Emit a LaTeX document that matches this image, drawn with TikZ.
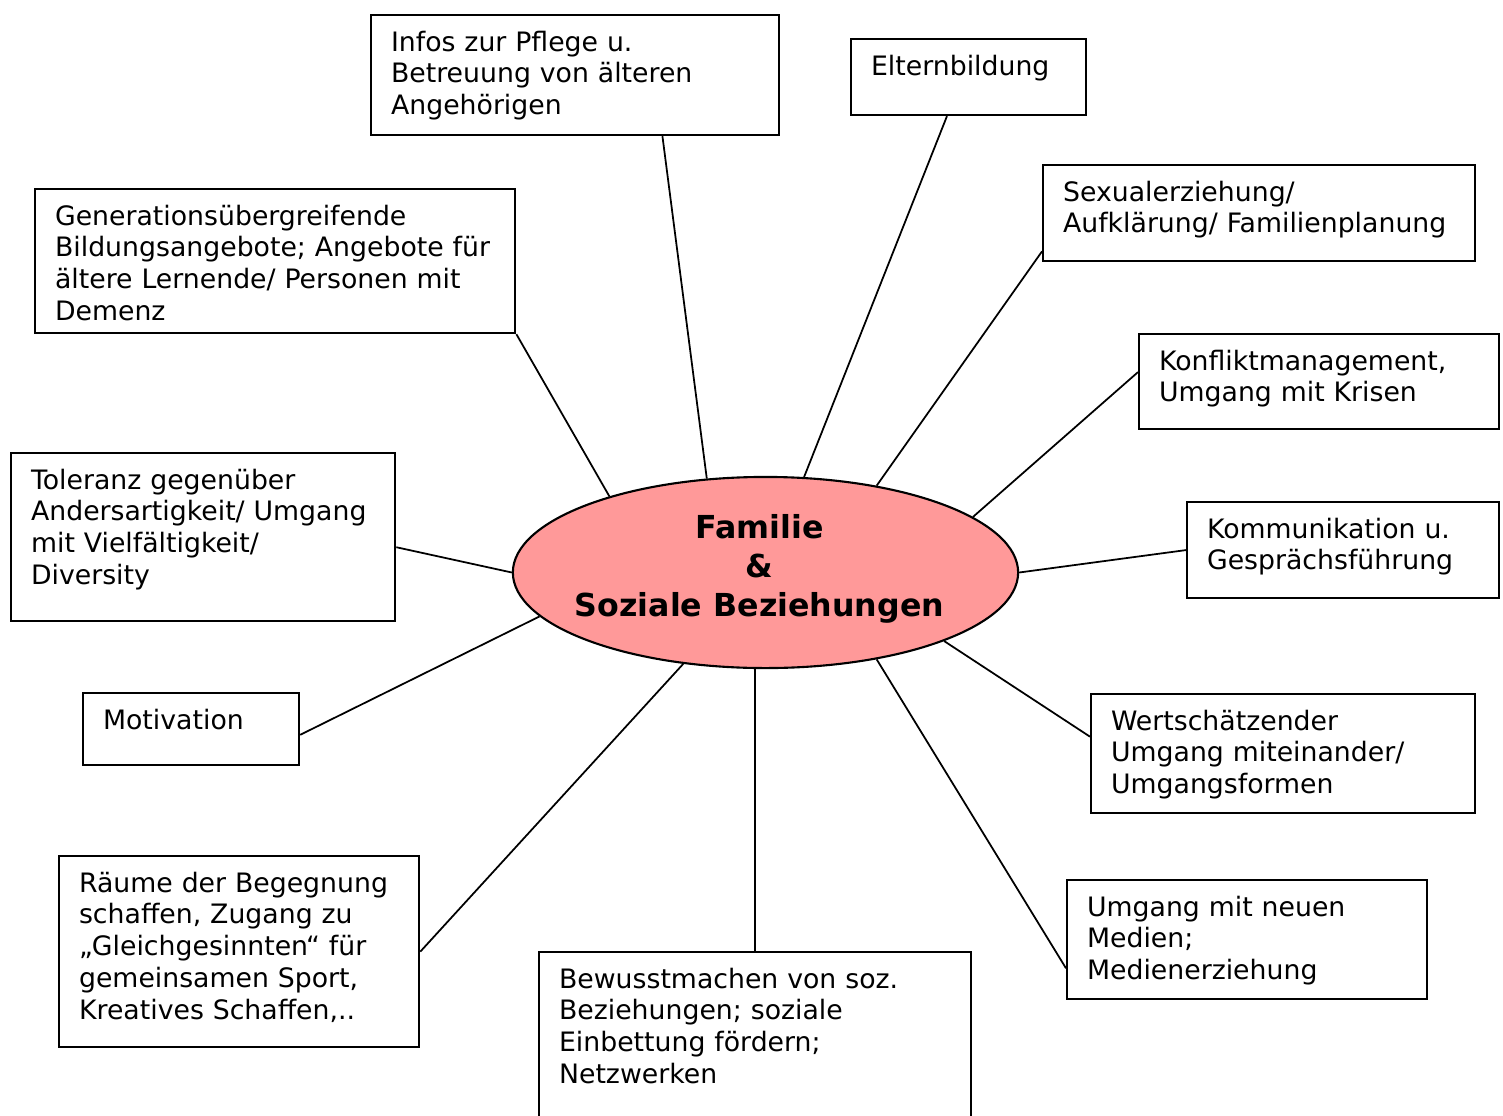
\documentclass[tikz,border=0pt]{standalone}
\usepackage{fontspec}
\setmainfont{DejaVu Sans}
\usetikzlibrary{shapes.geometric}
\begin{document}
\begin{tikzpicture}[x=0.01cm,y=-0.01cm,
		topic/.style={draw,line width=0.6pt,anchor=north west,align=left,
			inner xsep=0.2cm,inner ysep=0.12cm,text height=0.24cm,
			font=\fontsize{7.6}{9.07}\selectfont},
		core/.style={ellipse,draw,line width=0.6pt,fill=corefill,
			minimum width=5.05cm,minimum height=1.91cm,inner sep=0pt},
		link/.style={line width=0.5pt}]
	\definecolor{corefill}{HTML}{FF9999}
	\useasboundingbox (0,0) rectangle (1503,1115);
	% centre
	\node[core,label={[align=center,xshift=-0.06cm,yshift=0.04cm,font=\fontsize{9}{11.1}\bfseries]center:Familie\\\&\\Soziale Beziehungen}] (fam) at (765.5,572.5) {};
	% topics
	\node[topic,text width=3.68cm,text depth=0.72cm] (pflege) at (370,14) {Infos zur Pflege u.\\Betreuung von älteren\\Angehörigen};
	\node[topic,text width=1.95cm,text depth=0.28cm] (eltern) at (850,38) {Elternbildung};
	\node[topic,text width=3.92cm,text depth=0.48cm] (sexual) at (1042,164) {Sexualerziehung/\\Aufklärung/ Familienplanung};
	\node[topic,text width=3.20cm,text depth=0.47cm] (konflikt) at (1138,333) {Konfliktmanagement,\\Umgang mit Krisen};
	\node[topic,text width=2.72cm,text depth=0.48cm] (komm) at (1186,501) {Kommunikation u.\\Gesprächsführung};
	\node[topic,text width=3.44cm,text depth=0.71cm] (wert) at (1090,693) {Wertschätzender\\Umgang miteinander/\\Umgangsformen};
	\node[topic,text width=3.20cm,text depth=0.71cm] (medien) at (1066,879) {Umgang mit neuen\\Medien;\\Medienerziehung};
	\node[topic,text width=3.92cm,text depth=1.26cm] (bewusst) at (538,951) {Bewusstmachen von soz.\\Beziehungen; soziale\\Einbettung fördern;\\Netzwerken};
	\node[topic,text width=3.20cm,text depth=1.43cm] (raeume) at (58,855) {Räume der Begegnung\\schaffen, Zugang zu\\„Gleichgesinnten“ für\\gemeinsamen Sport,\\Kreatives Schaffen,..};
	\node[topic,text width=1.76cm,text depth=0.24cm] (motiv) at (82,692) {Motivation};
	\node[topic,text width=3.44cm,text depth=1.20cm] (toleranz) at (10,452) {Toleranz gegenüber\\Andersartigkeit/ Umgang\\mit Vielfältigkeit/\\Diversity};
	\node[topic,text width=4.40cm,text depth=0.96cm] (gener) at (34,188) {Generationsübergreifende\\Bildungsangebote; Angebote für\\ältere Lernende/ Personen mit\\Demenz};
	% connectors
	\draw[link] (pflege.-35.5) -- (fam.122.2);
	\draw[link] (eltern.-119.5) -- (fam.68.9);
	\draw[link] (sexual.-170.8) -- (fam.38.6);
	\draw[link] (konflikt.177) -- (fam.15.7);
	\draw[link] (komm.west) -- (fam.east);
	\draw[link] (wert.175.7) -- (fam.-21.3);
	\draw[link] (medien.-171.3) -- (fam.-38.9);
	\draw[link] (bewusst.north) -- (bewusst.north |- fam.south);
	\draw[link] (raeume.east) -- (fam.-132.4);
	\draw[link] (motiv.-3.2) -- (fam.-169.1);
	\draw[link] (toleranz.-3.6) -- (fam.west);
	\draw[link] (gener.south east) -- (fam.154.1);
\end{tikzpicture}
\end{document}
